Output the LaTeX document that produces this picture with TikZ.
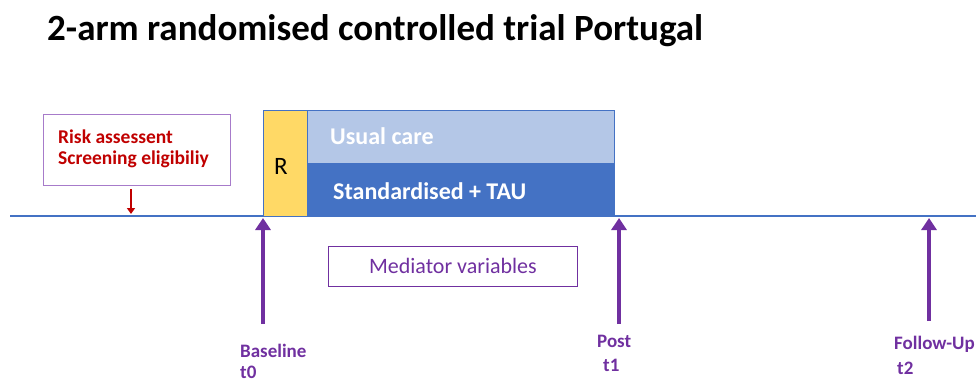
\documentclass[tikz,border=0pt]{standalone}
\usepackage{fontspec}
\setmainfont{Carlito}
\usetikzlibrary{arrows.meta}
\definecolor{axisblue}{HTML}{4472C4}
\definecolor{lightblue}{HTML}{B4C7E7}
\definecolor{ryellow}{HTML}{FFD966}
\definecolor{mpurple}{HTML}{7030A0}
\definecolor{boxpurple}{HTML}{A77BCA}
\definecolor{darkred}{HTML}{C00000}
\tikzset{
  armbox/.style={draw=axisblue, line width=0.8pt, minimum height=53pt, inner sep=0pt},
  armtext/.style={anchor=base west, inner sep=0pt, text=white, font=\fontsize{24}{28}\selectfont\bfseries},
  risktext/.style={anchor=base west, inner sep=0pt, text=darkred, font=\fontsize{19.5}{22}\selectfont\bfseries},
  timearrow/.style={draw=mpurple, line width=4pt, -{Triangle[length=12pt,width=15pt]}},
  timelabel/.style={text=mpurple, font=\fontsize{19}{22}\selectfont\bfseries, anchor=base west, inner sep=0pt},
}
\begin{document}
\begin{tikzpicture}[x=1pt,y=-1pt]
\useasboundingbox (0,0) rectangle (976,381);
% title
\node[anchor=base west, inner sep=0pt, font=\fontsize{37}{42}\selectfont\bfseries] (title) at (47,40) {2-arm randomised controlled trial Portugal};
% time axis
\coordinate (axl) at (10,216);
\coordinate (axr) at (976,216);
\draw[axisblue, line width=1.4pt] (axl) -- (axr);
% screening box
\node[draw=boxpurple, line width=0.8pt, minimum width=187pt, minimum height=71pt, anchor=north west, inner sep=0pt] (risk) at (43,114) {};
\node[risktext] (risk1) at (58,143) {Risk assessent};
\node[risktext] (risk2) at (58,164) {Screening eligibiliy};
\coordinate (rtop) at (131,189);
\coordinate (rbot) at (131,214);
\draw[darkred, line width=2pt, -{Triangle[length=6pt,width=8pt]}] (rtop) -- (rbot);
% randomisation and arms
\node[armbox, fill=ryellow, minimum width=44pt, minimum height=106pt, anchor=north west] (R) at (263,110) {};
\node[anchor=base, inner sep=0pt, font=\fontsize{25}{28}\selectfont] (Rtxt) at (281,174) {R};
\node[armbox, fill=lightblue, minimum width=307pt, anchor=north west] (usual) at (307,110) {};
\node[armtext] (usualtxt) at (330,144) {Usual care};
\node[armbox, fill=axisblue, minimum width=307pt, anchor=north west] (std) at (307,163) {};
\node[armtext] (stdtxt) at (333,199) {Standardised + TAU};
% mediator box
\node[draw=mpurple, line width=0.8pt, minimum width=249pt, minimum height=40pt, anchor=north west, inner sep=0pt] (med) at (328,246) {};
\node[text=mpurple, font=\fontsize{22}{26}\selectfont] (medtxt) at (med.center) {Mediator variables};
% measurement points
\coordinate (b0) at (263,324);
\coordinate (b1) at (263,218);
\coordinate (p0) at (619,324);
\coordinate (p1) at (619,218);
\coordinate (f0) at (929,321);
\coordinate (f1) at (929,218);
\draw[timearrow] (b0) -- (b1);
\draw[timearrow] (p0) -- (p1);
\draw[timearrow] (f0) -- (f1);
\node[timelabel] (base) at (240,357) {Baseline};
\node[timelabel] (baset) at (240,378) {t0};
\node[timelabel] (post) at (597,347) {Post};
\node[timelabel] (postt) at (603,371) {t1};
\node[timelabel] (fu) at (894,349) {Follow-Up};
\node[timelabel] (fut) at (897,374) {t2};
\end{tikzpicture}
\end{document}
